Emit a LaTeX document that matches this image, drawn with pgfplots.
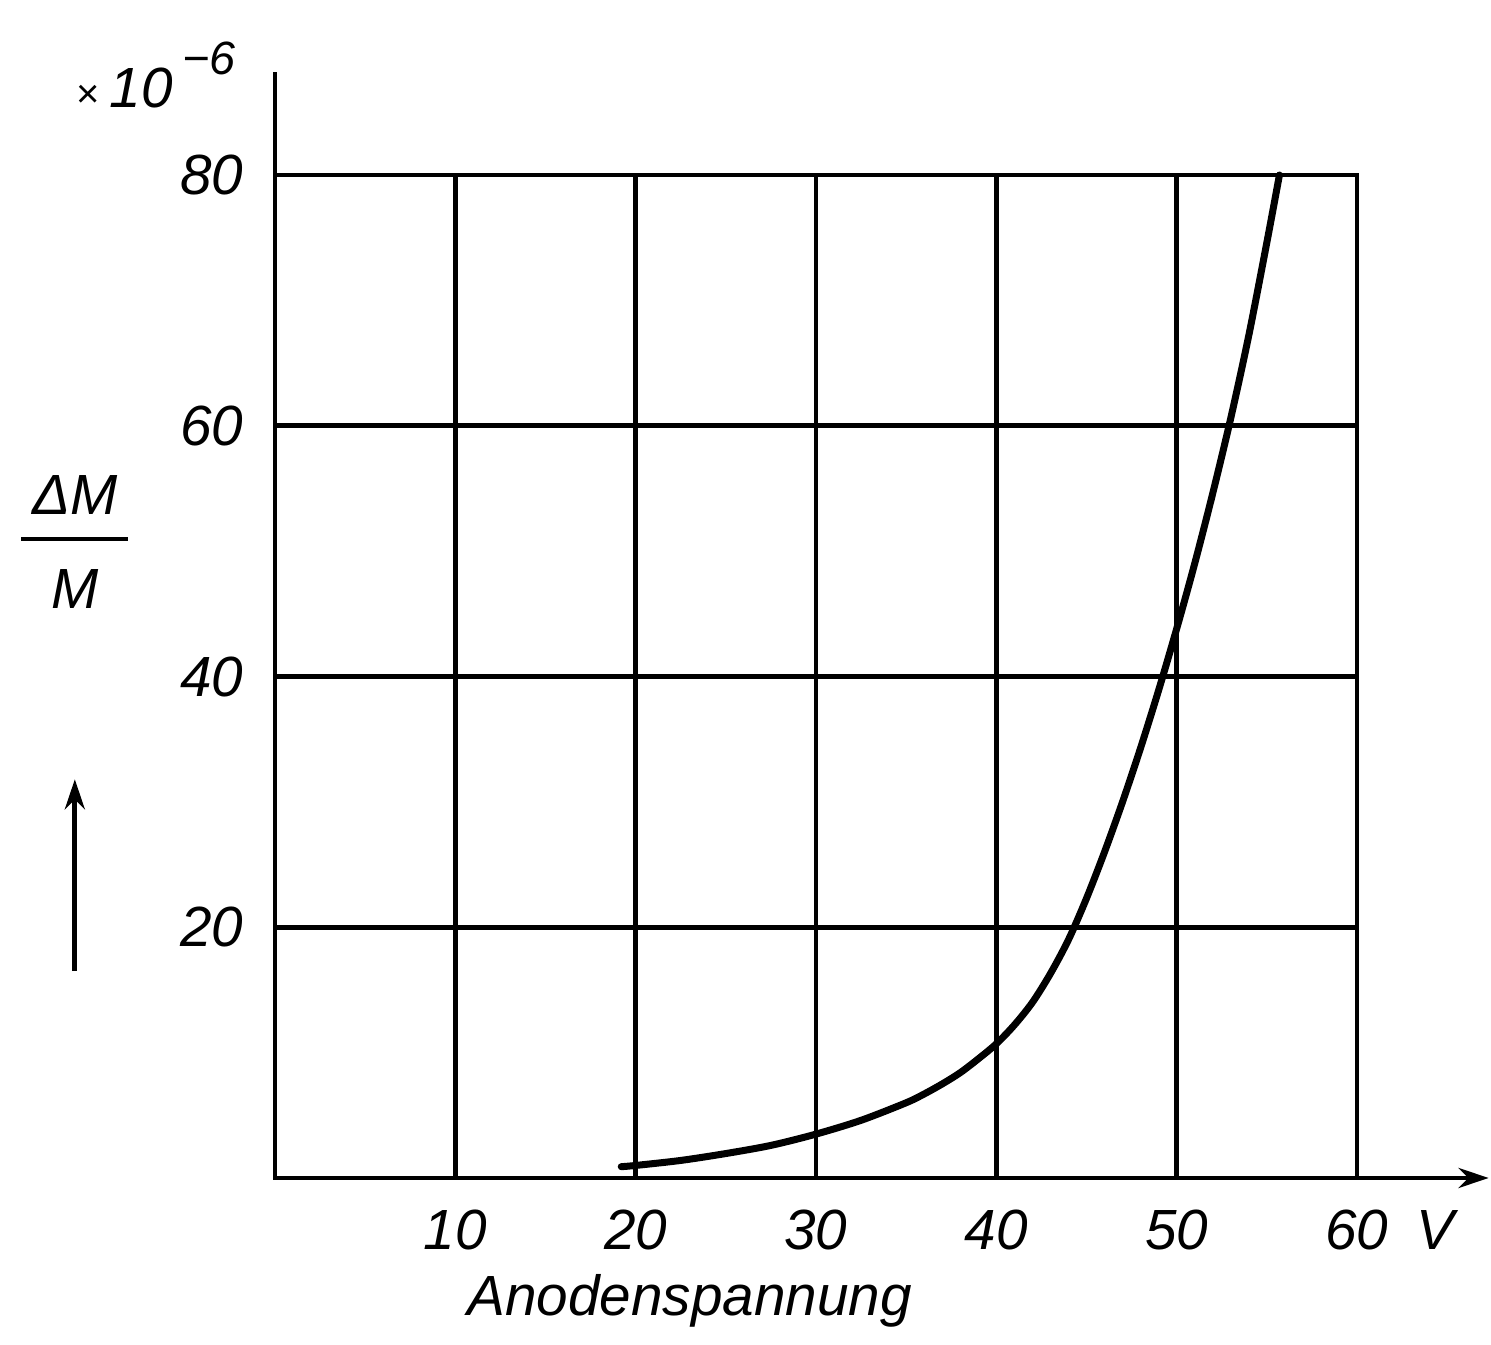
\documentclass[border=0pt]{standalone}
\usepackage{fontspec}
\setmainfont{Liberation Sans}
\usepackage{pgfplots}
\pgfplotsset{compat=1.18}
\usetikzlibrary{arrows.meta}
\begin{document}
\begin{tikzpicture}
\useasboundingbox (-82.5pt,-50.1pt) rectangle ++(447.3pt,403.5pt);
\begin{axis}[
  at={(0pt,0pt)}, anchor=south west,
  scale only axis, width=324.6pt, height=300.9pt,
  xmin=0, xmax=60, ymin=0, ymax=80,
  xtick={10,20,30,40,50,60}, ytick={20,40,60,80},
  xticklabels={10,20,30,40,50,{60\rlap{\enspace V}}},
  yticklabels={20,40,60,80},
  grid=major,
  major grid style={black, line width=1.4pt},
  axis line style={black, line width=1.4pt},
  major tick length=0pt,
  clip=false,
  ticklabel style={font=\fontsize{17}{19}\selectfont\itshape},
  xticklabel style={yshift=-6pt},
  yticklabel style={xshift=-6pt},
]
\addplot[black, line width=2.1pt, smooth, tension=0.5, line cap=round] coordinates {
 (19.2,0.9) (20,1.0) (22.5,1.4) (25,1.95) (27.5,2.6) (30,3.5) (32.5,4.6)
 (35,6.0) (36,6.7) (37,7.5) (38,8.4) (39,9.5) (40,10.7) (41,12.2) (42,14.0)
 (43,16.3) (44,19.0) (45,22.3) (46,26.0) (47,30.0) (48,34.3) (49,38.9)
 (50,43.8) (51,49.0) (52,54.6) (53,60.6) (54,67.2) (55,74.6) (55.7,80)
};
\draw[black, line width=1.4pt, -{Stealth[length=9pt,width=6pt]}] (axis cs:60,0) -- (axis cs:67.3,0);
\draw[black, line width=1.4pt] (axis cs:0,80) -- (axis cs:0,88.2);
\draw[black, line width=1.4pt, -{Stealth[length=9pt,width=6pt]}] (axis cs:-11.1,16.5) -- (axis cs:-11.1,31.8);
\node[font=\fontsize{17}{19}\selectfont\itshape, inner sep=0pt] (num) at (axis cs:-11.1,54.5) {\char"0394M};
\node[font=\fontsize{17}{19}\selectfont\itshape, inner sep=0pt] (den) at (axis cs:-11.1,47) {M};
\draw[black, line width=1.2pt] ([xshift=-3pt]axis cs:-11.1,51) ++(-13pt,0) -- ++(32pt,0);
\node[font=\fontsize{17}{19}\selectfont\itshape] at (axis cs:-6.6,88) {{\fontsize{12}{12}\selectfont\upshape\char"00D7}\,10\,\raisebox{1.1ex}{\fontsize{14}{14}\selectfont\char"2212 6}};
\node[font=\fontsize{17}{19}\selectfont\itshape] at (axis cs:23,-9.8) {Anodenspannung};
\end{axis}
\end{tikzpicture}
\end{document}
